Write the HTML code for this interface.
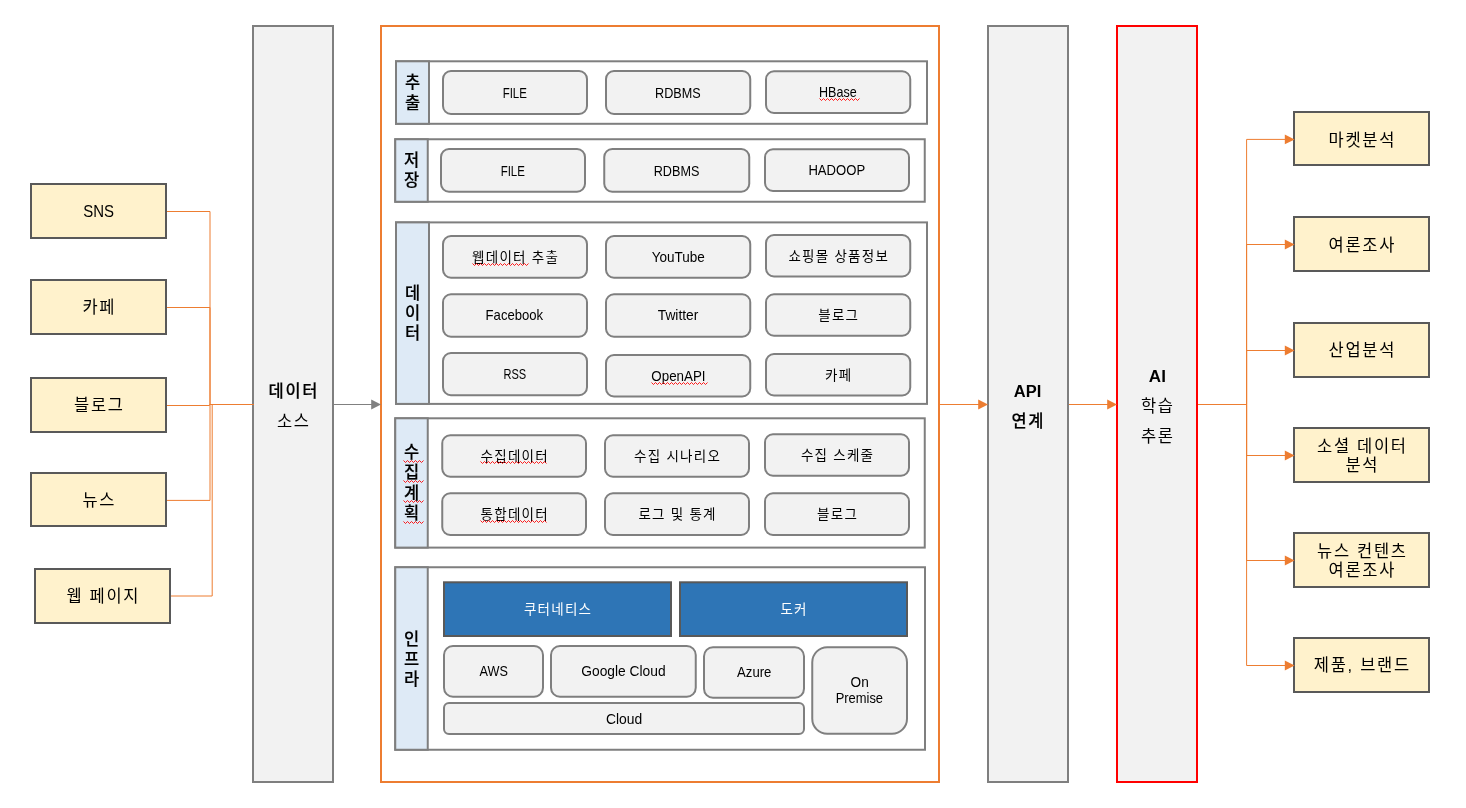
<!DOCTYPE html>
<html lang="ko">
<head>
<meta charset="utf-8">
<title>데이터 수집 플랫폼 구성도</title>
<style>
html,body{margin:0;padding:0;background:#fff;}
body{width:1466px;height:808px;overflow:hidden;}
svg{display:block;will-change:transform;}
text{font-family:"Liberation Sans","Noto Sans CJK KR",sans-serif;text-anchor:middle;fill:#000;}
.r{font-weight:400;}
.b{font-weight:700;}
.m{font-weight:500;stroke:#000;stroke-width:0.15px;}
.w{fill:#fff;}
</style>
</head>
<body>
<svg width="1466" height="808" viewBox="0 0 1466 808">
<rect x="31" y="184" width="135" height="54" fill="#fff2cc" stroke="#595959" stroke-width="2"/>
<text class="r" style="font-size:17px;" transform="translate(98.58 217.10) scale(0.881 1)">SNS</text>
<rect x="31" y="280" width="135" height="54" fill="#fff2cc" stroke="#595959" stroke-width="2"/>
<text class="r" style="font-size:16.5px;letter-spacing:1.7px;" x="99.35" y="313.20">카페</text>
<rect x="31" y="378" width="135" height="54" fill="#fff2cc" stroke="#595959" stroke-width="2"/>
<text class="r" style="font-size:16.5px;letter-spacing:1.7px;" x="99.35" y="411.20">블로그</text>
<rect x="31" y="473" width="135" height="53" fill="#fff2cc" stroke="#595959" stroke-width="2"/>
<text class="r" style="font-size:16.5px;letter-spacing:1.7px;" x="99.35" y="505.70">뉴스</text>
<rect x="35" y="569" width="135" height="54" fill="#fff2cc" stroke="#595959" stroke-width="2"/>
<text class="r" style="font-size:16.5px;letter-spacing:1.7px;" x="103.35" y="602.20">웹 페이지</text>
<rect x="253" y="26" width="80" height="756" fill="#f2f2f2" stroke="#7f7f7f" stroke-width="2"/>
<rect x="988" y="26" width="80" height="756" fill="#f2f2f2" stroke="#7f7f7f" stroke-width="2"/>
<rect x="1117" y="26" width="80" height="756" fill="#f2f2f2" stroke="#ff0000" stroke-width="2"/>
<rect x="381" y="26" width="558" height="756" fill="#ffffff" stroke="#ed7d31" stroke-width="2"/>
<path d="M167 211.5 L210 211.5 L210 404.5 L253.5 404.5" fill="none" stroke="#ed7d31" stroke-width="1"/>
<path d="M167 307.5 L210 307.5 L210 404.5 L253.5 404.5" fill="none" stroke="#ed7d31" stroke-width="1"/>
<path d="M167 405.5 L209.5 405.5 L209.5 404.5 L253.5 404.5" fill="none" stroke="#ed7d31" stroke-width="1"/>
<path d="M167 500.4 L210 500.4 L210 404.5 L253.5 404.5" fill="none" stroke="#ed7d31" stroke-width="1"/>
<path d="M171 596 L212.2 596 L212.2 404.5 L253.5 404.5" fill="none" stroke="#ed7d31" stroke-width="1"/>
<text class="m" style="font-size:16.5px;letter-spacing:1.7px;" x="293.85" y="396.95">데이터</text>
<text class="r" style="font-size:16.5px;letter-spacing:1.7px;" x="293.85" y="426.95">소스</text>
<text class="b" style="font-size:17px;" transform="translate(1027.56 397.05) scale(0.97 1)">API</text>
<text class="m" style="font-size:16.5px;letter-spacing:1.7px;" x="1028.35" y="426.95">연계</text>
<text class="b" style="font-size:17px;" transform="translate(1157.37 382.10) scale(1.001 1)">AI</text>
<text class="r" style="font-size:16.5px;letter-spacing:1.7px;" x="1157.85" y="411.95">학습</text>
<text class="r" style="font-size:16.5px;letter-spacing:1.7px;" x="1157.85" y="441.95">추론</text>
<path d="M334 404.5 L372 404.5" fill="none" stroke="#808080" stroke-width="1"/>
<path d="M940 404.5 L979 404.5" fill="none" stroke="#ed7d31" stroke-width="1"/>
<path d="M1069 404.5 L1108 404.5" fill="none" stroke="#ed7d31" stroke-width="1"/>
<path d="M1198 404.5 L1246.6 404.5 L1246.6 139.4 L1286 139.4" fill="none" stroke="#ed7d31" stroke-width="1"/>
<path d="M1198 404.5 L1246.6 404.5 L1246.6 244.5 L1286 244.5" fill="none" stroke="#ed7d31" stroke-width="1"/>
<path d="M1198 404.5 L1246.6 404.5 L1246.6 350.5 L1286 350.5" fill="none" stroke="#ed7d31" stroke-width="1"/>
<path d="M1198 404.5 L1246.6 404.5 L1246.6 455.5 L1286 455.5" fill="none" stroke="#ed7d31" stroke-width="1"/>
<path d="M1198 404.5 L1246.6 404.5 L1246.6 560.5 L1286 560.5" fill="none" stroke="#ed7d31" stroke-width="1"/>
<path d="M1198 404.5 L1246.6 404.5 L1246.6 665.5 L1286 665.5" fill="none" stroke="#ed7d31" stroke-width="1"/>
<rect x="1294" y="112" width="135" height="53" fill="#fff2cc" stroke="#595959" stroke-width="2"/>
<text class="r" style="font-size:16.5px;letter-spacing:1.7px;" x="1362.35" y="145.70">마켓분석</text>
<rect x="1294" y="217" width="135" height="54" fill="#fff2cc" stroke="#595959" stroke-width="2"/>
<text class="r" style="font-size:16.5px;letter-spacing:1.7px;" x="1362.35" y="250.70">여론조사</text>
<rect x="1294" y="323" width="135" height="54" fill="#fff2cc" stroke="#595959" stroke-width="2"/>
<text class="r" style="font-size:16.5px;letter-spacing:1.7px;" x="1362.35" y="356.20">산업분석</text>
<rect x="1294" y="428" width="135" height="54" fill="#fff2cc" stroke="#595959" stroke-width="2"/>
<text class="r" style="font-size:16.5px;letter-spacing:1.7px;" x="1362.35" y="451.70">소셜 데이터</text>
<text class="r" style="font-size:16.5px;letter-spacing:1.7px;" x="1362.35" y="470.70">분석</text>
<rect x="1294" y="533" width="135" height="54" fill="#fff2cc" stroke="#595959" stroke-width="2"/>
<text class="r" style="font-size:16.5px;letter-spacing:1.7px;" x="1362.35" y="556.70">뉴스 컨텐츠</text>
<text class="r" style="font-size:16.5px;letter-spacing:1.7px;" x="1362.35" y="575.70">여론조사</text>
<rect x="1294" y="638" width="135" height="54" fill="#fff2cc" stroke="#595959" stroke-width="2"/>
<text class="r" style="font-size:16.5px;letter-spacing:1.7px;" x="1362.35" y="671.20">제품, 브랜드</text>
<rect x="396" y="61.3" width="531" height="62.5" fill="#ffffff" stroke="#7f7f7f" stroke-width="2"/>
<rect x="396" y="61.3" width="33" height="62.5" fill="#deeaf6" stroke="#7f7f7f" stroke-width="2"/>
<text class="m" style="font-size:16.5px;letter-spacing:1.7px;" x="413.35" y="88.20">추</text>
<text class="m" style="font-size:16.5px;letter-spacing:1.7px;" x="413.35" y="108.70">출</text>
<rect x="395.25" y="139.25" width="529.5" height="62.5" fill="#ffffff" stroke="#7f7f7f" stroke-width="2"/>
<rect x="395.25" y="139.25" width="32.5" height="62.5" fill="#deeaf6" stroke="#7f7f7f" stroke-width="2"/>
<text class="m" style="font-size:16.5px;letter-spacing:1.7px;" x="412.35" y="165.70">저</text>
<text class="m" style="font-size:16.5px;letter-spacing:1.7px;" x="412.35" y="185.70">장</text>
<rect x="396" y="222.4" width="531" height="181.5" fill="#ffffff" stroke="#7f7f7f" stroke-width="2"/>
<rect x="396" y="222.4" width="33" height="181.5" fill="#deeaf6" stroke="#7f7f7f" stroke-width="2"/>
<text class="m" style="font-size:16.5px;letter-spacing:1.7px;" x="413.35" y="299.20">데</text>
<text class="m" style="font-size:16.5px;letter-spacing:1.7px;" x="413.35" y="319.20">이</text>
<text class="m" style="font-size:16.5px;letter-spacing:1.7px;" x="413.35" y="339.20">터</text>
<rect x="395.25" y="418.3" width="529.5" height="129.3" fill="#ffffff" stroke="#7f7f7f" stroke-width="2"/>
<rect x="395.25" y="418.3" width="32.5" height="129.3" fill="#deeaf6" stroke="#7f7f7f" stroke-width="2"/>
<text class="m" style="font-size:16.5px;letter-spacing:1.7px;" x="412.35" y="458.20">수</text>
<text class="m" style="font-size:16.5px;letter-spacing:1.7px;" x="412.35" y="478.20">집</text>
<text class="m" style="font-size:16.5px;letter-spacing:1.7px;" x="412.35" y="498.70">계</text>
<text class="m" style="font-size:16.5px;letter-spacing:1.7px;" x="412.35" y="518.70">획</text>
<rect x="395.25" y="567.25" width="529.75" height="182.5" fill="#ffffff" stroke="#7f7f7f" stroke-width="2"/>
<rect x="395.25" y="567.25" width="32.5" height="182.5" fill="#deeaf6" stroke="#7f7f7f" stroke-width="2"/>
<text class="m" style="font-size:16.5px;letter-spacing:1.7px;" x="412.35" y="645.10">인</text>
<text class="m" style="font-size:16.5px;letter-spacing:1.7px;" x="412.35" y="664.90">프</text>
<text class="m" style="font-size:16.5px;letter-spacing:1.7px;" x="412.35" y="685.40">라</text>
<rect x="443" y="71" width="144" height="43" fill="#f2f2f2" stroke="#7f7f7f" stroke-width="2" rx="8"/>
<text class="r" style="font-size:14px;" transform="translate(514.79 98.30) scale(0.821 1)">FILE</text>
<rect x="606" y="71" width="144.25" height="43" fill="#f2f2f2" stroke="#7f7f7f" stroke-width="2" rx="8"/>
<text class="r" style="font-size:14px;" transform="translate(677.90 98.30) scale(0.902 1)">RDBMS</text>
<rect x="766" y="71.25" width="144.25" height="41.75" fill="#f2f2f2" stroke="#7f7f7f" stroke-width="2" rx="8"/>
<text class="r" style="font-size:14px;" transform="translate(837.89 97.33) scale(0.897 1)">HBase</text>
<rect x="441" y="149" width="144" height="42.75" fill="#f2f2f2" stroke="#7f7f7f" stroke-width="2" rx="8"/>
<text class="r" style="font-size:14px;" transform="translate(512.79 176.18) scale(0.821 1)">FILE</text>
<rect x="604.25" y="149" width="145" height="42.75" fill="#f2f2f2" stroke="#7f7f7f" stroke-width="2" rx="8"/>
<text class="r" style="font-size:14px;" transform="translate(676.52 176.18) scale(0.902 1)">RDBMS</text>
<rect x="765" y="149.25" width="144" height="41.75" fill="#f2f2f2" stroke="#7f7f7f" stroke-width="2" rx="8"/>
<text class="r" style="font-size:14px;" transform="translate(836.76 175.43) scale(0.936 1)">HADOOP</text>
<rect x="443" y="236" width="144" height="41.75" fill="#f2f2f2" stroke="#7f7f7f" stroke-width="2" rx="8"/>
<text class="r" style="font-size:13.5px;letter-spacing:1.25px;" x="515.62" y="261.98">웹데이터 추출</text>
<rect x="606" y="236" width="144.25" height="41.75" fill="#f2f2f2" stroke="#7f7f7f" stroke-width="2" rx="8"/>
<text class="r" style="font-size:14px;" transform="translate(678.29 261.68) scale(0.966 1)">YouTube</text>
<rect x="766" y="235" width="144.25" height="41.5" fill="#f2f2f2" stroke="#7f7f7f" stroke-width="2" rx="8"/>
<text class="r" style="font-size:13.5px;letter-spacing:1.25px;" x="838.75" y="260.85">쇼핑몰 상품정보</text>
<rect x="443" y="294.25" width="144" height="42.5" fill="#f2f2f2" stroke="#7f7f7f" stroke-width="2" rx="8"/>
<text class="r" style="font-size:14px;" transform="translate(514.39 320.30) scale(0.937 1)">Facebook</text>
<rect x="606" y="294.25" width="144.25" height="42.5" fill="#f2f2f2" stroke="#7f7f7f" stroke-width="2" rx="8"/>
<text class="r" style="font-size:14px;" transform="translate(678.05 320.30) scale(0.987 1)">Twitter</text>
<rect x="766" y="294.25" width="144.25" height="41.5" fill="#f2f2f2" stroke="#7f7f7f" stroke-width="2" rx="8"/>
<text class="r" style="font-size:13.5px;letter-spacing:1.25px;" x="838.75" y="320.10">블로그</text>
<rect x="443" y="353" width="144" height="42.25" fill="#f2f2f2" stroke="#7f7f7f" stroke-width="2" rx="8"/>
<text class="r" style="font-size:14px;" transform="translate(514.80 378.93) scale(0.79 1)">RSS</text>
<rect x="606" y="355" width="144.25" height="41.5" fill="#f2f2f2" stroke="#7f7f7f" stroke-width="2" rx="8"/>
<text class="r" style="font-size:14px;" transform="translate(678.42 380.55) scale(0.955 1)">OpenAPI</text>
<rect x="766" y="354" width="144.25" height="41.5" fill="#f2f2f2" stroke="#7f7f7f" stroke-width="2" rx="8"/>
<text class="r" style="font-size:13.5px;letter-spacing:1.25px;" x="838.75" y="379.85">카페</text>
<rect x="442.25" y="435.25" width="143.75" height="41.5" fill="#f2f2f2" stroke="#7f7f7f" stroke-width="2" rx="8"/>
<text class="r" style="font-size:13.5px;letter-spacing:1.25px;" x="514.75" y="461.10">수집데이터</text>
<rect x="605" y="435.25" width="144" height="41.5" fill="#f2f2f2" stroke="#7f7f7f" stroke-width="2" rx="8"/>
<text class="r" style="font-size:13.5px;letter-spacing:1.25px;" x="677.62" y="461.10">수집 시나리오</text>
<rect x="765" y="434.25" width="144" height="41.5" fill="#f2f2f2" stroke="#7f7f7f" stroke-width="2" rx="8"/>
<text class="r" style="font-size:13.5px;letter-spacing:1.25px;" x="837.62" y="460.10">수집 스케줄</text>
<rect x="442.25" y="493.25" width="143.75" height="41.75" fill="#f2f2f2" stroke="#7f7f7f" stroke-width="2" rx="8"/>
<text class="r" style="font-size:13.5px;letter-spacing:1.25px;" x="514.75" y="519.23">통합데이터</text>
<rect x="605" y="493.25" width="144" height="41.75" fill="#f2f2f2" stroke="#7f7f7f" stroke-width="2" rx="8"/>
<text class="r" style="font-size:13.5px;letter-spacing:1.25px;" x="677.62" y="519.23">로그 및 통계</text>
<rect x="765" y="493.25" width="144" height="41.75" fill="#f2f2f2" stroke="#7f7f7f" stroke-width="2" rx="8"/>
<text class="r" style="font-size:13.5px;letter-spacing:1.25px;" x="837.62" y="519.23">블로그</text>
<rect x="444" y="582.3" width="227" height="53.7" fill="#2e75b6" stroke="#595959" stroke-width="2"/>
<rect x="680" y="582.3" width="227" height="53.7" fill="#2e75b6" stroke="#595959" stroke-width="2"/>
<text class="r w" style="font-size:13.5px;letter-spacing:1.25px;" x="558.12" y="614.10">쿠터네티스</text>
<text class="r w" style="font-size:13.5px;letter-spacing:1.25px;" x="794.12" y="614.10">도커</text>
<rect x="444" y="646" width="99" height="50.75" fill="#f2f2f2" stroke="#7f7f7f" stroke-width="2" rx="9"/>
<rect x="551" y="646" width="144.75" height="50.75" fill="#f2f2f2" stroke="#7f7f7f" stroke-width="2" rx="9"/>
<rect x="704" y="647.25" width="100" height="50.5" fill="#f2f2f2" stroke="#7f7f7f" stroke-width="2" rx="9"/>
<rect x="444" y="703" width="360" height="31" fill="#f2f2f2" stroke="#7f7f7f" stroke-width="2" rx="5"/>
<rect x="812.25" y="647.25" width="94.75" height="86.5" fill="#f2f2f2" stroke="#7f7f7f" stroke-width="2" rx="15"/>
<text class="r" style="font-size:14px;" transform="translate(493.77 676.20) scale(0.906 1)">AWS</text>
<text class="r" style="font-size:14px;" transform="translate(623.46 676.20) scale(0.986 1)">Google Cloud</text>
<text class="r" style="font-size:14px;" transform="translate(754.27 677.30) scale(0.939 1)">Azure</text>
<text class="r" style="font-size:14px;" transform="translate(624.06 724.00) scale(0.993 1)">Cloud</text>
<text class="r" style="font-size:14px;" transform="translate(859.66 687.30) scale(0.975 1)">On</text>
<text class="r" style="font-size:14px;" transform="translate(859.36 703.30) scale(0.924 1)">Premise</text>
<path d="M472.5 263.5 L474.5 265.5 L476.5 263.5 L478.5 265.5 L480.5 263.5 L482.5 265.5 L484.5 263.5 L486.5 265.5 L488.5 263.5 L490.5 265.5 L492.5 263.5 L494.5 265.5 L496.5 263.5 L498.5 265.5 L500.5 263.5 L502.5 265.5 L504.5 263.5 L506.5 265.5 L508.5 263.5 L510.5 265.5 L512.5 263.5 L514.5 265.5 L516.5 263.5 L518.5 265.5 L520.5 263.5 L522.5 265.5 L524.5 263.5 L526.5 265.5 L528.5 263.5" fill="none" stroke="#ff0000" stroke-width="1" stroke-linejoin="miter" stroke-opacity="0.9"/>
<path d="M819.5 98.5 L821.5 100.5 L823.5 98.5 L825.5 100.5 L827.5 98.5 L829.5 100.5 L831.5 98.5 L833.5 100.5 L835.5 98.5 L837.5 100.5 L839.5 98.5 L841.5 100.5 L843.5 98.5 L845.5 100.5 L847.5 98.5 L849.5 100.5 L851.5 98.5 L853.5 100.5 L855.5 98.5 L857.5 100.5 L859.5 98.5" fill="none" stroke="#ff0000" stroke-width="1" stroke-linejoin="miter" stroke-opacity="0.9"/>
<path d="M651.5 382.5 L653.5 384.5 L655.5 382.5 L657.5 384.5 L659.5 382.5 L661.5 384.5 L663.5 382.5 L665.5 384.5 L667.5 382.5 L669.5 384.5 L671.5 382.5 L673.5 384.5 L675.5 382.5 L677.5 384.5 L679.5 382.5 L681.5 384.5 L683.5 382.5 L685.5 384.5 L687.5 382.5 L689.5 384.5 L691.5 382.5 L693.5 384.5 L695.5 382.5 L697.5 384.5 L699.5 382.5 L701.5 384.5 L703.5 382.5 L705.5 384.5 L707.5 382.5" fill="none" stroke="#ff0000" stroke-width="1" stroke-linejoin="miter" stroke-opacity="0.9"/>
<path d="M480.5 461.5 L482.5 463.5 L484.5 461.5 L486.5 463.5 L488.5 461.5 L490.5 463.5 L492.5 461.5 L494.5 463.5 L496.5 461.5 L498.5 463.5 L500.5 461.5 L502.5 463.5 L504.5 461.5 L506.5 463.5 L508.5 461.5 L510.5 463.5 L512.5 461.5 L514.5 463.5 L516.5 461.5 L518.5 463.5 L520.5 461.5 L522.5 463.5 L524.5 461.5 L526.5 463.5 L528.5 461.5 L530.5 463.5 L532.5 461.5 L534.5 463.5 L536.5 461.5 L538.5 463.5 L540.5 461.5 L542.5 463.5 L544.5 461.5 L546.5 463.5" fill="none" stroke="#ff0000" stroke-width="1" stroke-linejoin="miter" stroke-opacity="0.9"/>
<path d="M480.5 520.5 L482.5 522.5 L484.5 520.5 L486.5 522.5 L488.5 520.5 L490.5 522.5 L492.5 520.5 L494.5 522.5 L496.5 520.5 L498.5 522.5 L500.5 520.5 L502.5 522.5 L504.5 520.5 L506.5 522.5 L508.5 520.5 L510.5 522.5 L512.5 520.5 L514.5 522.5 L516.5 520.5 L518.5 522.5 L520.5 520.5 L522.5 522.5 L524.5 520.5 L526.5 522.5 L528.5 520.5 L530.5 522.5 L532.5 520.5 L534.5 522.5 L536.5 520.5 L538.5 522.5 L540.5 520.5 L542.5 522.5 L544.5 520.5 L546.5 522.5" fill="none" stroke="#ff0000" stroke-width="1" stroke-linejoin="miter" stroke-opacity="0.9"/>
<path d="M403.5 460.5 L405.5 462.5 L407.5 460.5 L409.5 462.5 L411.5 460.5 L413.5 462.5 L415.5 460.5 L417.5 462.5 L419.5 460.5 L421.5 462.5 L423.5 460.5" fill="none" stroke="#ff0000" stroke-width="1" stroke-linejoin="miter" stroke-opacity="0.9"/>
<path d="M403.5 480.5 L405.5 482.5 L407.5 480.5 L409.5 482.5 L411.5 480.5 L413.5 482.5 L415.5 480.5 L417.5 482.5 L419.5 480.5 L421.5 482.5 L423.5 480.5" fill="none" stroke="#ff0000" stroke-width="1" stroke-linejoin="miter" stroke-opacity="0.9"/>
<path d="M403.5 500.5 L405.5 502.5 L407.5 500.5 L409.5 502.5 L411.5 500.5 L413.5 502.5 L415.5 500.5 L417.5 502.5 L419.5 500.5 L421.5 502.5 L423.5 500.5" fill="none" stroke="#ff0000" stroke-width="1" stroke-linejoin="miter" stroke-opacity="0.9"/>
<path d="M403.5 521.5 L405.5 523.5 L407.5 521.5 L409.5 523.5 L411.5 521.5 L413.5 523.5 L415.5 521.5 L417.5 523.5 L419.5 521.5 L421.5 523.5 L423.5 521.5" fill="none" stroke="#ff0000" stroke-width="1" stroke-linejoin="miter" stroke-opacity="0.9"/>
<path d="M381 404.5 L371.2 399.6 L371.2 409.4 Z" fill="#808080"/>
<path d="M988 404.5 L978.2 399.6 L978.2 409.4 Z" fill="#ed7d31"/>
<path d="M1117 404.5 L1107.2 399.6 L1107.2 409.4 Z" fill="#ed7d31"/>
<path d="M1294.6 139.4 L1284.8 134.5 L1284.8 144.3 Z" fill="#ed7d31"/>
<path d="M1294.6 244.5 L1284.8 239.6 L1284.8 249.4 Z" fill="#ed7d31"/>
<path d="M1294.6 350.5 L1284.8 345.6 L1284.8 355.4 Z" fill="#ed7d31"/>
<path d="M1294.6 455.5 L1284.8 450.6 L1284.8 460.4 Z" fill="#ed7d31"/>
<path d="M1294.6 560.5 L1284.8 555.6 L1284.8 565.4 Z" fill="#ed7d31"/>
<path d="M1294.6 665.5 L1284.8 660.6 L1284.8 670.4 Z" fill="#ed7d31"/>
</svg>
</body>
</html>
